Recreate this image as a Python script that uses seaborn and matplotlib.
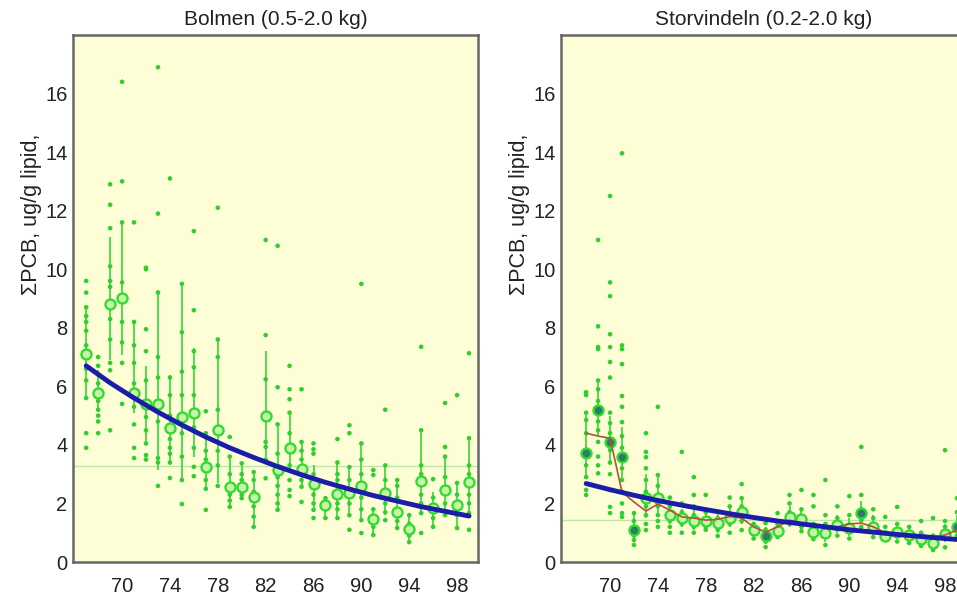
import pandas as pd
import matplotlib
matplotlib.use("Agg")
import matplotlib.pyplot as plt
import seaborn as sns
from matplotlib.ticker import MultipleLocator

# --- Bolmen (0.5-2.0 kg) ---
bol_years = list(range(67, 100))
bol_mean = [7.1, 5.77, 8.8, 9.0, 5.77, 5.4, 5.4, 4.57, 4.95, 5.1, 3.24, 4.5, 2.57,
            2.55, 2.23, 5.0, 3.14, 3.9, 3.17, 2.66, 1.95, 2.32, 2.35, 2.6, 1.46,
            2.35, 1.7, 1.12, 2.76, 1.83, 2.46, 1.95, 2.73]
bol_lo = [5.6, 5.2, 6.9, 7.07, 5.1, 4.0, 3.15, 3.3, 2.8, 3.6, 2.57, 2.7, 1.88,
          2.18, 1.2, 3.6, 1.77, 3.03, 2.57, 1.78, 1.5, 1.5, 1.6, 1.43, 0.92,
          1.6, 1.16, 0.68, 1.67, 1.2, 1.6, 1.16, 1.67]
bol_hi = [8.7, 6.55, 11.1, 11.6, 8.25, 6.7, 9.3, 6.4, 9.5, 7.3, 4.45, 7.58, 3.6,
          3.37, 3.07, 7.2, 4.73, 5.1, 4.1, 3.3, 2.18, 3.4, 3.24, 4.05, 1.8,
          3.3, 2.8, 1.6, 4.5, 2.4, 3.6, 2.7, 4.23]
bol_pts = [
    [9.6, 9.2, 8.7, 8.4, 8.2, 7.9, 7.4, 6.6, 6.2, 5.6, 4.4, 3.9],
    [7.0, 6.7, 6.4, 6.1, 5.5, 5.2, 5.0, 4.8, 4.4],
    [12.9, 12.2, 11.4, 10.1, 9.6, 9.4, 8.3, 7.6, 6.8, 6.55, 4.5],
    [16.4, 13.0, 11.6, 9.55, 8.9, 8.2, 7.5, 6.8, 5.4],
    [11.6, 8.2, 7.4, 6.8, 6.1, 5.3, 4.7, 3.9, 3.55],
    [10.0, 10.05, 7.95, 7.2, 6.2, 4.95, 4.5, 4.05, 3.65, 3.5],
    [16.9, 11.9, 9.2, 7.0, 6.3, 4.8, 3.55, 3.4, 2.6],
    [13.1, 6.3, 5.7, 5.0, 4.2, 3.9, 3.7, 3.4, 2.87],
    [9.5, 7.85, 6.5, 5.7, 4.4, 3.6, 2.8, 1.98],
    [11.3, 8.6, 7.2, 6.65, 5.7, 4.6, 3.9, 3.25, 2.93],
    [5.15, 4.4, 3.8, 3.5, 2.8, 2.5, 1.78],
    [12.1, 7.6, 7.0, 5.2, 3.8, 3.3, 2.6],
    [4.27, 3.6, 3.0, 2.3, 2.1, 1.88],
    [3.37, 3.0, 2.8, 2.3, 2.18],
    [3.07, 2.8, 2.4, 1.9, 1.55, 1.2],
    [11.0, 7.75, 6.24, 4.1, 3.93, 3.5, 2.86],
    [10.8, 5.97, 4.7, 3.7, 2.9, 2.6, 2.3, 2.0, 1.78],
    [6.7, 5.9, 5.56, 5.1, 4.4, 3.3, 2.8, 2.46, 2.25],
    [5.9, 4.1, 3.8, 3.5, 2.8, 2.57, 2.05],
    [4.05, 3.85, 3.7, 3.0, 2.3, 2.0, 1.78, 1.5],
    [2.18, 2.0, 1.8, 1.5],
    [4.2, 3.4, 3.0, 2.8, 2.0, 1.8, 1.5],
    [4.67, 4.4, 3.24, 2.8, 2.0, 1.6, 1.1],
    [9.5, 4.05, 3.5, 3.0, 2.2, 1.8, 1.43, 0.99],
    [3.14, 2.97, 1.8, 1.2, 0.92],
    [5.2, 3.3, 2.8, 2.0, 1.7, 1.43],
    [2.8, 2.6, 2.2, 1.4, 1.16],
    [1.6, 1.3, 0.9, 0.68],
    [7.35, 4.5, 3.3, 3.0, 2.3, 2.0, 1.67, 0.99],
    [2.83, 2.2, 1.5, 1.2],
    [5.43, 3.93, 3.6, 2.9, 2.0, 1.6],
    [5.7, 2.7, 2.3, 1.6, 1.16],
    [7.13, 4.23, 3.3, 3.0, 2.3, 2.0, 1.67, 1.1],
]
bol_trend_x = [67, 69, 71, 73, 75, 77, 79, 81, 83, 85, 87, 89, 91, 93, 95, 97, 99]
bol_trend_y = [6.7, 6.12, 5.6, 5.12, 4.68, 4.27, 3.9, 3.57, 3.26, 2.98, 2.72,
               2.49, 2.27, 2.08, 1.89, 1.73, 1.57]
bol_ref = 3.28
bol_dark = [False] * len(bol_years)

# --- Storvindeln (0.2-2.0 kg) ---
sto_years = list(range(68, 100))
sto_mean = [3.72, 5.19, 4.1, 3.58, 1.09, 2.18, 2.2, 1.6, 1.5, 1.4, 1.4, 1.33, 1.5,
            1.7, 1.09, 0.89, 1.06, 1.54, 1.46, 1.02, 0.98, 1.26, 1.15, 1.67, 1.2,
            0.89, 1.02, 0.92, 0.78, 0.66, 0.96, 1.2]
sto_lo = [2.9, 4.3, 3.3, 2.8, 0.7, 1.5, 1.6, 1.3, 1.2, 1.1, 1.2, 1.0, 1.2, 1.3, 0.9,
          0.6, 0.8, 1.2, 1.1, 0.8, 0.7, 1.0, 0.9, 1.3, 0.9, 0.7, 0.8, 0.7, 0.6, 0.5,
          0.7, 0.9]
sto_hi = [5.1, 6.2, 5.0, 4.6, 1.6, 3.0, 2.9, 1.9, 1.8, 1.8, 1.7, 1.6, 1.9, 2.2, 1.3,
          1.2, 1.4, 1.9, 1.8, 1.3, 1.3, 1.6, 1.5, 2.1, 1.6, 1.1, 1.3, 1.2, 1.0, 0.9,
          1.3, 1.6]
sto_pts = [
    [5.8, 5.7, 5.1, 4.85, 4.4, 3.3, 2.9, 2.46, 2.29],
    [11.0, 8.05, 7.34, 7.27, 6.2, 5.9, 5.5, 4.8, 4.5, 4.1, 3.6, 3.3, 3.03],
    [12.5, 9.55, 9.08, 7.78, 7.34, 6.83, 6.3, 5.1, 4.74, 4.4, 3.82, 3.4, 3.0,
     2.46, 1.88, 1.67],
    [13.96, 7.4, 7.27, 6.76, 5.67, 5.3, 4.78, 4.3, 3.9, 3.2, 2.8, 2.4, 2.0, 1.67,
     1.54],
    [1.67, 1.4, 1.2, 0.9, 0.75, 0.58],
    [4.4, 3.76, 3.58, 3.2, 2.8, 2.4, 1.9, 1.6, 1.3, 1.09],
    [5.3, 2.97, 2.6, 1.9, 1.6, 1.4, 1.2],
    [2.2, 1.9, 1.4, 1.2, 1.0],
    [3.76, 2.0, 1.7, 1.3, 1.0],
    [2.9, 2.29, 1.9, 1.6, 1.2, 1.0],
    [2.29, 1.7, 1.2, 1.1],
    [1.7, 1.5, 1.1, 0.89],
    [2.2, 1.9, 1.3, 1.0],
    [2.66, 2.18, 1.9, 1.4, 1.09],
    [1.3, 0.95, 0.8],
    [1.33, 1.1, 0.7, 0.51],
    [1.67, 1.3, 0.85],
    [2.29, 2.0, 1.7, 1.3],
    [2.46, 1.8, 1.2, 1.05],
    [2.29, 1.9, 1.3, 0.78],
    [2.8, 1.6, 1.3, 0.58],
    [1.9, 1.5, 0.9],
    [2.25, 1.6, 0.8],
    [3.93, 2.29, 1.8, 1.43, 1.2],
    [1.8, 1.5, 0.85],
    [1.54, 1.2, 0.75],
    [1.88, 1.3, 0.7],
    [1.2, 0.65],
    [1.4, 1.0, 0.55],
    [1.5, 0.9, 0.41],
    [3.82, 1.4, 1.2, 0.5],
    [2.18, 1.7, 0.9],
]
sto_smooth = [4.4, 4.3, 4.23, 2.39, 2.05, 1.74, 1.98, 1.77, 1.54, 1.5, 1.43, 1.46,
              1.55, 1.5, 1.2, 1.02, 1.2, 1.43, 1.33, 1.3, 1.2, 1.2, 1.3, 1.33, 1.2,
              1.0, 0.96, 0.92, 0.86, 0.86, 0.92, 1.09]
sto_trend_x = [68, 70, 72, 74, 76, 78, 80, 82, 84, 86, 88, 90, 92, 94, 96, 98, 100]
sto_trend_y = [2.68, 2.47, 2.28, 2.1, 1.94, 1.79, 1.65, 1.52, 1.4, 1.3, 1.2, 1.1,
               1.02, 0.94, 0.87, 0.8, 0.74]
sto_ref = 1.43
# medelvärden som ritats med mörk fyllning i originalet
sto_dark = [y in (68, 69, 70, 71, 72, 83, 91, 99) for y in sto_years]

YLABEL = "\u03a3PCB, ug/g lipid,"
BG = "#fefed6"
DOT = "#2fcf2f"


def draw_panel(ax, title, years, pts, mean, lo, hi, trend_x, trend_y, ref, dark,
               smooth=None):
    ax.set_facecolor(BG)
    ax.axhline(ref, color="#bfe6a8", lw=1.0, zorder=1)

    # konfidensintervall
    ax.vlines(years, lo, hi, color="#45d845", lw=1.3, zorder=2)

    dots = pd.DataFrame([(y, v) for y, vals in zip(years, pts) for v in vals],
                        columns=["year", "value"])
    sns.scatterplot(data=dots, x="year", y="value", ax=ax, s=11, color=DOT,
                    edgecolor="none", legend=False, zorder=3)

    means = pd.DataFrame({"year": years, "value": mean, "dark": dark})
    light = means[~means["dark"]]
    heavy = means[means["dark"]]
    sns.scatterplot(data=light, x="year", y="value", ax=ax, s=52,
                    facecolor="#c8f3a8", edgecolor="#30dc30", linewidth=1.7,
                    legend=False, zorder=4)
    if len(heavy):
        sns.scatterplot(data=heavy, x="year", y="value", ax=ax, s=52,
                        facecolor="#2f7a6a", edgecolor="#30dc30", linewidth=1.7,
                        legend=False, zorder=4)

    if smooth is not None:
        sns.lineplot(x=years, y=smooth, ax=ax, color="#b8503a", lw=1.2, zorder=5)

    sns.lineplot(x=trend_x, y=trend_y, ax=ax, color="#1c1caa", lw=3.5, zorder=6)

    ax.set_xlim(65.9, 99.75)
    ax.set_ylim(0, 18)
    ax.set_xticks(range(70, 100, 4))
    ax.set_xticks(range(68, 100, 4), minor=True)
    ax.set_yticks(range(0, 17, 2))
    ax.set_yticks(range(1, 18, 2), minor=True)
    ax.tick_params(axis="y", which="both", direction="in", length=5, width=1.2,
                   labelsize=14.5, color="#555555", labelcolor="#222222", pad=4)
    ax.tick_params(axis="x", which="both", direction="out", length=6, width=1.2,
                   labelsize=14.5, color="#555555", labelcolor="#222222", pad=5)
    for sp in ax.spines.values():
        sp.set_color("#666666")
        sp.set_linewidth(1.8)

    ax.set_xlabel("")
    ax.set_ylabel(YLABEL, fontsize=15.5, color="#222222")
    ax.yaxis.set_label_coords(-0.076, 0.66)
    ax.set_title(title, fontsize=15, color="#222222", pad=7)


sns.set_style("white")
plt.rcParams["font.family"] = ["Liberation Sans", "DejaVu Sans"]

fig = plt.figure(figsize=(9.57, 5.98), dpi=100)
ax1 = fig.add_axes([0.0763, 0.0602, 0.4232, 0.8813])
ax2 = fig.add_axes([0.5862, 0.0602, 0.4232, 0.8813])

draw_panel(ax1, "Bolmen (0.5-2.0 kg)", bol_years, bol_pts, bol_mean, bol_lo, bol_hi,
           bol_trend_x, bol_trend_y, bol_ref, bol_dark)
draw_panel(ax2, "Storvindeln (0.2-2.0 kg)", sto_years, sto_pts, sto_mean, sto_lo,
           sto_hi, sto_trend_x, sto_trend_y, sto_ref, sto_dark, smooth=sto_smooth)

fig.savefig("out.png", dpi=100)
